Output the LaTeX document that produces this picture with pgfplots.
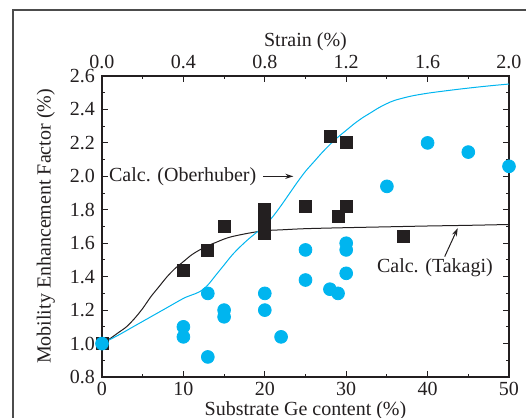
\documentclass[border=0pt]{standalone}
\usepackage{pgfplots}
\pgfplotsset{compat=1.18}
\usepackage{fontspec}
\setmainfont{Liberation Serif}
\usetikzlibrary{arrows.meta}
\definecolor{cyanpt}{HTML}{00B5EF}
\definecolor{ink}{HTML}{231F20}

\pgfplotsset{
  frame/.style={
    at={(0pt,0pt)}, anchor=south west, scale only axis,
    width=203.5pt, height=150.5pt,
    ymin=0.8, ymax=2.6,
    tick align=inside, major tick length=3pt, minor tick length=1.7pt,
    every tick/.style={ink, line width=0.5pt},
    axis line style={ink, line width=0.6pt},
    tick label style={font=\fontsize{10}{12}\selectfont, text=ink},
    label style={font=\fontsize{10}{12}\selectfont, text=ink},
    /pgf/number format/assume math mode=true,
  }
}

\begin{document}
\begin{tikzpicture}
\useasboundingbox (-51pt,-20.5pt) rectangle (212pt,188.5pt);
\draw[line width=0.6pt, black!70] (-44.5pt,-30pt) -- (-44.5pt,183.5pt) -- (230pt,183.5pt);

% main axis: Ge content
\begin{axis}[frame,
  xmin=0, xmax=50,
  xtick={0,10,20,30,40,50}, minor x tick num=1,
  ytick={0.8,1.0,...,2.6}, minor y tick num=1,
  xtick pos=bottom, ytick pos=both,
  xticklabel style={yshift=1pt},
  yticklabel style={/pgf/number format/fixed,/pgf/number format/fixed zerofill,/pgf/number format/precision=1},
  xlabel={Substrate Ge content (\%)},
  ylabel={Mobility Enhancement Factor (\%)},
  xlabel style={at={(axis description cs:0.5,-0.113)}, anchor=center},
  ylabel style={at={(axis description cs:-0.138,0.5)}, anchor=center},
  clip=false,
]
% Takagi
\addplot[ink, line width=0.5pt, smooth] coordinates {
 (0,1.0) (1,1.03) (2,1.065) (3,1.10) (4,1.15) (5,1.21) (6,1.28) (7,1.34)
 (8,1.40) (9,1.45) (10,1.49) (11,1.53) (12,1.56) (13,1.585) (14,1.605)
 (15,1.625) (16,1.64) (18,1.66) (20,1.675) (22,1.68) (25,1.687) (30,1.693)
 (35,1.698) (40,1.703) (45,1.707) (50,1.712)};
% Oberhuber
\addplot[cyanpt, line width=0.5pt, smooth] coordinates {
 (0,1.00) (2,1.05) (4,1.105) (6,1.16) (8,1.215) (10,1.27) (11,1.29) (12,1.31)
 (13,1.35) (14,1.41) (15,1.47) (16,1.53) (17,1.58) (18,1.625) (19,1.665)
 (20,1.705) (21,1.76) (22,1.825) (23,1.895) (24,1.965) (25,2.03) (26,2.085)
 (27,2.14) (28,2.19) (29,2.235) (30,2.275) (31,2.315) (32,2.35) (33,2.38)
 (34,2.41) (35,2.435) (36,2.455) (38,2.48) (40,2.497) (42,2.51) (44,2.522)
 (46,2.533) (48,2.543) (50,2.552)};
% measured (squares)
\addplot[only marks, mark=square*, mark size=3pt, mark options={ink, fill=ink}] coordinates {
 (0,1.0) (10,1.44) (13,1.56) (15,1.70) (20,1.80) (20,1.75) (20,1.70) (20,1.66)
 (25,1.82) (28,2.24) (30,2.20) (29,1.76) (30,1.82) (37,1.64)};
% measured (circles)
\addplot[only marks, mark=*, mark size=3.2pt, mark options={cyanpt, fill=cyanpt}] coordinates {
 (0,1.0) (10,1.10) (10,1.04) (13,1.30) (13,0.92) (15,1.20) (15,1.16)
 (20,1.30) (20,1.20) (22,1.04) (25,1.56) (25,1.38) (28,1.325) (29,1.30)
 (30,1.60) (30,1.56) (30,1.42) (35,1.94) (40,2.20) (45,2.145) (50,2.06)};
% annotations
\node[anchor=east, font=\fontsize{10}{12}\selectfont, text=ink, inner sep=0pt] at (axis cs:19.0,2.0) {Calc. (Oberhuber)};
\draw[ink, line width=0.5pt, -{Stealth[length=4pt,width=2.6pt]}] (axis cs:19.8,2.0) -- (axis cs:23.5,2.0);
\node[font=\fontsize{10}{12}\selectfont, text=ink, inner sep=0pt] at (axis cs:40.9,1.456) {Calc. (Takagi)};
\draw[ink, line width=0.5pt, -{Stealth[length=4pt,width=2.6pt]}] (axis cs:42.1,1.52) -- (axis cs:43.7,1.69);
\end{axis}

% top axis: strain
\begin{axis}[frame,
  xmin=0, xmax=2,
  axis x line*=top, axis y line=none,
  xtick={0,0.4,0.8,1.2,1.6,2.0}, minor x tick num=1,
  xticklabel style={/pgf/number format/fixed,/pgf/number format/fixed zerofill,/pgf/number format/precision=1},
  xlabel={Strain (\%)},
  xlabel style={at={(axis description cs:0.5,1.113)}, anchor=center},
]
\addplot[draw=none] coordinates {(0,1) (2,1)};
\end{axis}
\end{tikzpicture}
\end{document}
